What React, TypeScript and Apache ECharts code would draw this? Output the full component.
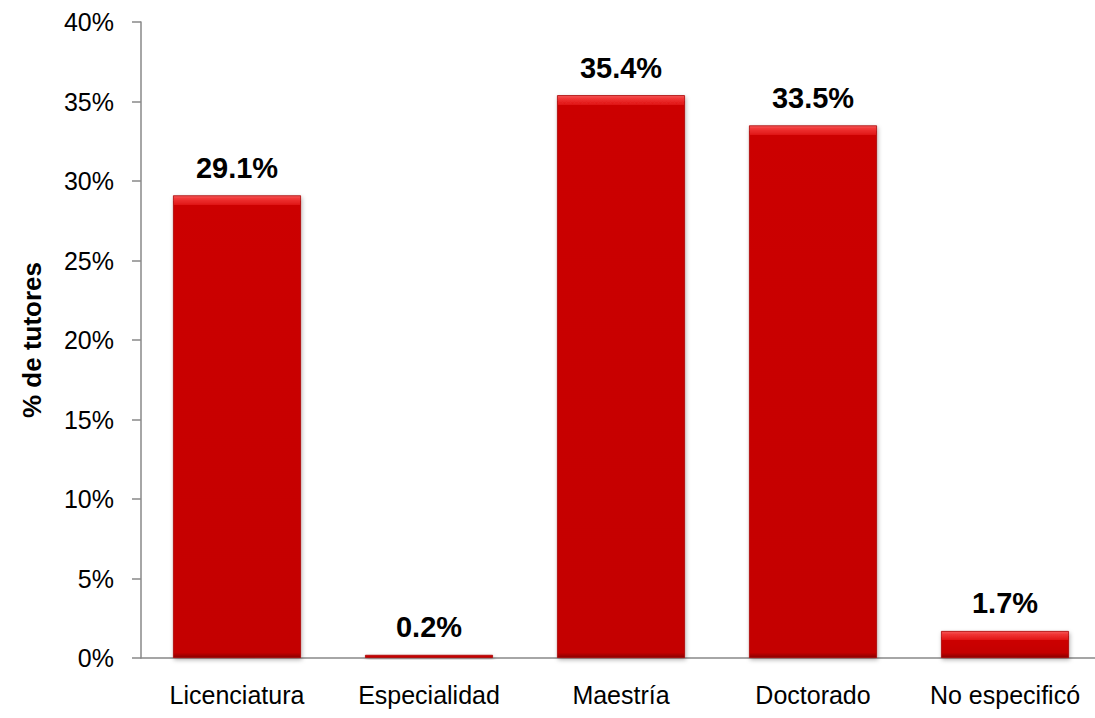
import React, { useEffect, useRef } from "react";
import * as echarts from "echarts";

const categories = ["Licenciatura", "Especialidad", "Maestría", "Doctorado", "No especificó"];
const values = [29.1, 0.2, 35.4, 33.5, 1.7];
const yTicks = [0, 5, 10, 15, 20, 25, 30, 35, 40];
const yTitle = "% de tutores";

const FONT = '"Liberation Sans", Arial, Helvetica, sans-serif';
const PX_PER_UNIT = 636 / 40;

function barColor(v: number) {
  const h = v * PX_PER_UNIT;
  if (h < 10) return "#c80000";
  const s = Math.min(0.4, 9 / h);
  const b = Math.min(0.4, 5 / h);
  return new echarts.graphic.LinearGradient(0, 0, 0, 1, [
    { offset: 0, color: "#f55a5a" },
    { offset: s * 0.35, color: "#f03434" },
    { offset: s, color: "#e01414" },
    { offset: s + 0.001, color: "#cc0000" },
    { offset: 1 - b, color: "#c40000" },
    { offset: 1, color: "#8a0000" },
  ]);
}

export default function App() {
  const ref = useRef<HTMLDivElement>(null);
  useEffect(() => {
    if (!ref.current) return;
    const chart = echarts.init(ref.current, null, { renderer: "svg" });
    chart.setOption({
      animation: false,
      backgroundColor: "#ffffff",
      grid: { left: 141, top: 22, width: 960, height: 636, containLabel: false },
      xAxis: {
        type: "category",
        data: categories,
        axisLine: { show: true, lineStyle: { color: "#888888", width: 1.5 } },
        axisTick: { show: false },
        axisLabel: { color: "#000", fontSize: 25, fontFamily: FONT, margin: 24, interval: 0 },
      },
      yAxis: {
        type: "value",
        min: yTicks[0],
        max: yTicks[yTicks.length - 1],
        interval: 5,
        name: yTitle,
        nameLocation: "middle",
        nameGap: 96,
        nameRotate: 90,
        nameTextStyle: { color: "#000", fontSize: 26, fontWeight: "bold", fontFamily: FONT },
        axisLine: { show: true, lineStyle: { color: "#888888", width: 1.5 } },
        axisTick: { show: true, inside: false, length: 9, lineStyle: { color: "#888888", width: 1.5 } },
        splitLine: { show: false },
        axisLabel: {
          color: "#000",
          fontSize: 25,
          fontFamily: FONT,
          margin: 27,
          formatter: (v: number) => `${v}%`,
        },
      },
      series: [
        {
          type: "bar",
          barWidth: 128,
          data: values.map((v) => ({
            value: v,
            itemStyle: {
              color: barColor(v),
              borderColor: "#a80000",
              borderWidth: 0.8,
              shadowColor: "rgba(0,0,0,0.3)",
              shadowBlur: 4,
              shadowOffsetX: 1,
              shadowOffsetY: 2,
            },
          })),
          label: {
            show: true,
            position: "top",
            distance: 13,
            color: "#000",
            fontSize: 29,
            fontWeight: "bold",
            fontFamily: FONT,
            formatter: (p: any) => `${Number(p.value).toFixed(1)}%`,
          },
        },
      ],
    });
    return () => chart.dispose();
  }, []);
  return (
    <div
      ref={ref}
      style={{ position: "fixed", left: 0, top: 0, width: 1110, height: 718, background: "#fff" }}
    />
  );
}
